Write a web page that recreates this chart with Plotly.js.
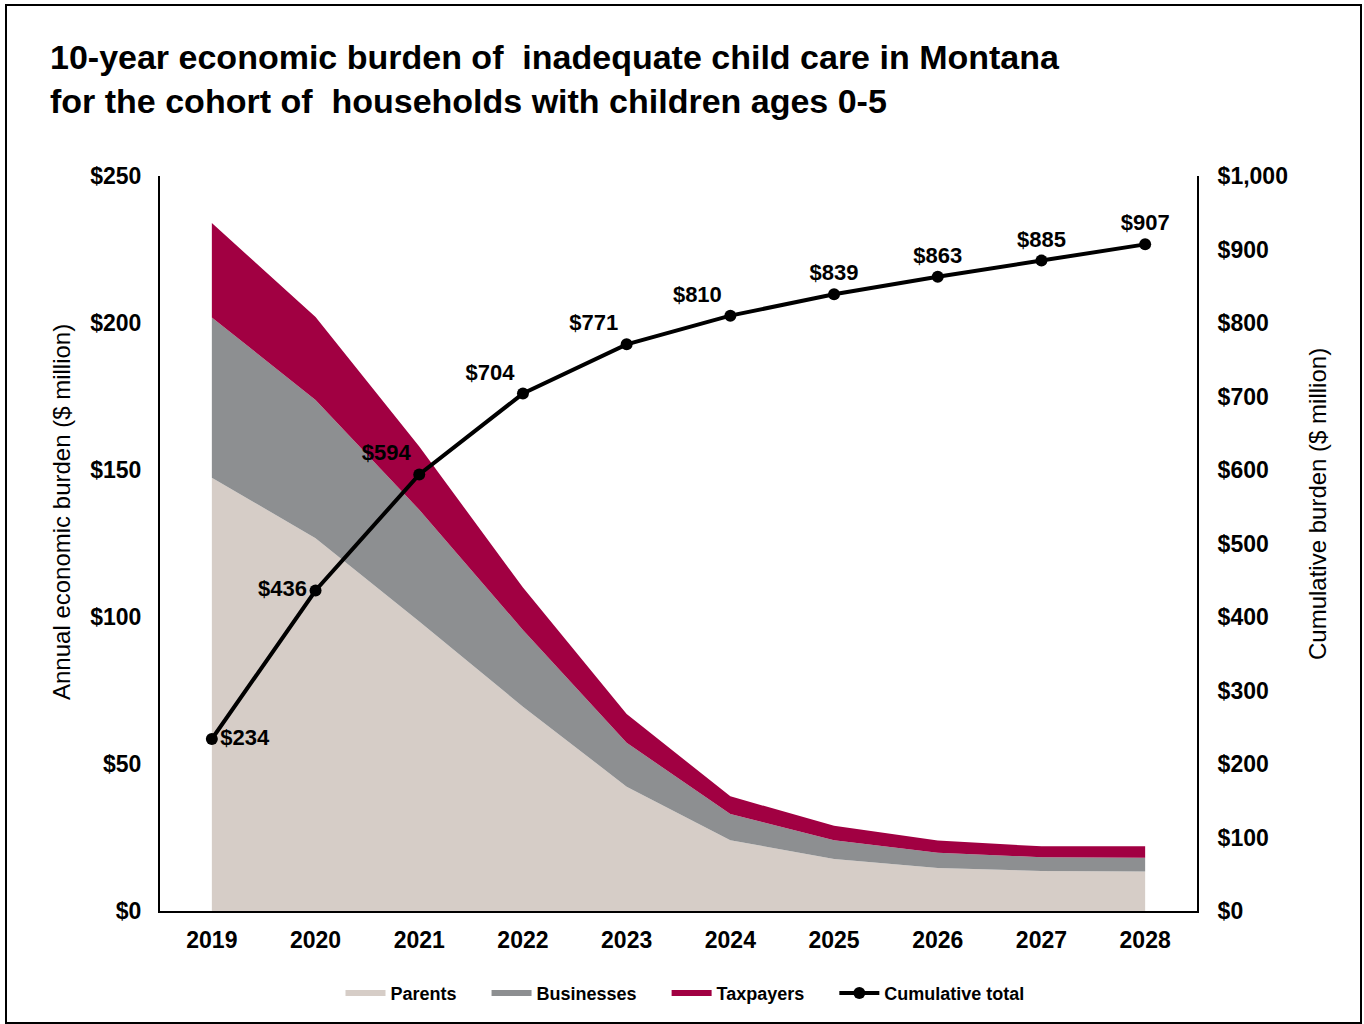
<!DOCTYPE html>
<html>
<head>
<meta charset="utf-8">
<script src="https://cdn.plot.ly/plotly-3.0.1.min.js"></script>
<style>
  html, body { margin: 0; padding: 0; background: #fff; }
  #chart { width: 1364px; height: 1024px; }
</style>
</head>
<body>
<div id="chart"></div>
<script>
// ---- data ----
const years = [2019, 2020, 2021, 2022, 2023, 2024, 2025, 2026, 2027, 2028];
const parents = [147.4, 126.8, 98.5, 69.5, 42.3, 24.1, 17.7, 14.6, 13.6, 13.4];
const businesses = [54.5, 47.0, 38.0, 26.1, 14.9, 8.9, 6.4, 5.2, 4.7, 4.7];
const taxpayers = [32.1, 28.2, 21.5, 14.4, 9.8, 6.0, 4.9, 4.2, 3.7, 3.9];
const cumulative = [234, 436, 594, 704, 771, 810, 839, 863, 885, 907];
const cumulativeLabels = ['$234', '$436', '$594', '$704', '$771', '$810', '$839', '$863', '$885', '$907'];
const leftTicks = [0, 50, 100, 150, 200, 250];
const rightTicks = [0, 100, 200, 300, 400, 500, 600, 700, 800, 900, 1000];

const FONT = 'Liberation Sans, Arial, sans-serif';
const PAD = '\u00a0\u00a0\u00a0\u00a0\u00a0';

const areaTrace = (name, y, color) => ({
  type: 'scatter', mode: 'none', name: name + PAD, x: years, y: y,
  stackgroup: 'one', fill: 'tonexty', fillcolor: color,
  line: { width: 0 }, hoverinfo: 'x+y+name'
});

const traces = [
  areaTrace('Parents', parents, '#D6CDC7'),
  areaTrace('Businesses', businesses, '#8D8F91'),
  areaTrace('Taxpayers', taxpayers, '#A10042'),
  {
    type: 'scatter', mode: 'lines+markers+text', name: 'Cumulative total',
    x: years, y: cumulative, yaxis: 'y2',
    line: { color: '#000', width: 4 },
    marker: { color: '#000', size: 12 },
    text: cumulativeLabels,
    textposition: ['middle right', 'middle left', 'top left', 'top left', 'top left',
                   'top left', 'top center', 'top center', 'top center', 'top center'],
    textfont: { family: FONT, size: 22, color: '#000', weight: 'bold' },
    cliponaxis: false
  }
];

const layout = {
  width: 1364, height: 1024,
  margin: { l: 160, r: 167, t: 176, b: 113 },
  paper_bgcolor: '#fff', plot_bgcolor: '#fff',
  font: { family: FONT, color: '#000' },
  title: {
    text: '<b>10-year economic burden of  inadequate child care in Montana<br>for the cohort of  households with children ages 0-5</b>',
    font: { family: FONT, size: 34, color: '#000' },
    xref: 'container', yref: 'container',
    x: 50 / 1364, xanchor: 'left',
    y: 1 - 69 / 1024, yanchor: 'middle'
  },
  xaxis: {
    type: 'linear', range: [2018.5, 2028.5],
    tickmode: 'array', tickvals: years, ticktext: years.map(String),
    showgrid: false, zeroline: false,
    showline: true, linecolor: '#000', linewidth: 2,
    ticks: 'outside', ticklen: 7, tickcolor: 'rgba(0,0,0,0)',
    tickfont: { family: FONT, size: 23, color: '#000', weight: 'bold' }
  },
  yaxis: {
    range: [0, 250], tickmode: 'array', tickvals: leftTicks,
    ticktext: leftTicks.map(v => '$' + v),
    showgrid: false, zeroline: false,
    showline: true, linecolor: '#000', linewidth: 2,
    ticks: 'outside', ticklen: 12, tickcolor: 'rgba(0,0,0,0)',
    tickfont: { family: FONT, size: 23, color: '#000', weight: 'bold' }
  },
  yaxis2: {
    overlaying: 'y', side: 'right',
    range: [0, 1000], tickmode: 'array', tickvals: rightTicks,
    ticktext: rightTicks.map(v => '$' + v.toLocaleString('en-US')),
    showgrid: false, zeroline: false,
    showline: true, linecolor: '#000', linewidth: 2,
    ticks: 'outside', ticklen: 14, tickcolor: 'rgba(0,0,0,0)',
    tickfont: { family: FONT, size: 23, color: '#000', weight: 'bold' }
  },
  annotations: [
    {
      text: 'Annual economic burden ($ million)', textangle: -90,
      xref: 'paper', yref: 'paper',
      x: (61 - 160) / 1037, y: (911 - 512) / 735,
      xanchor: 'center', yanchor: 'middle', showarrow: false,
      font: { family: FONT, size: 24, color: '#000' }
    },
    {
      text: 'Cumulative burden ($ million)', textangle: -90,
      xref: 'paper', yref: 'paper',
      x: (1317 - 160) / 1037, y: (911 - 504) / 735,
      xanchor: 'center', yanchor: 'middle', showarrow: false,
      font: { family: FONT, size: 24, color: '#000' }
    }
  ],
  showlegend: true,
  legend: {
    orientation: 'h', x: (685 - 160) / 1037, xanchor: 'center', y: -0.112, yanchor: 'middle',
    font: { family: FONT, size: 18, color: '#000', weight: 'bold' },
    traceorder: 'normal', itemwidth: 40
  },
  shapes: [{
    type: 'rect', xref: 'paper', yref: 'paper',
    x0: (6 - 160) / 1037, x1: (1361 - 160) / 1037,
    y0: (911 - 1023) / 735, y1: (911 - 5) / 735,
    line: { color: '#000', width: 2 }, fillcolor: 'rgba(0,0,0,0)', layer: 'below'
  }]
};

Plotly.newPlot('chart', traces, layout, { displayModeBar: false, staticPlot: true });
</script>
</body>
</html>
